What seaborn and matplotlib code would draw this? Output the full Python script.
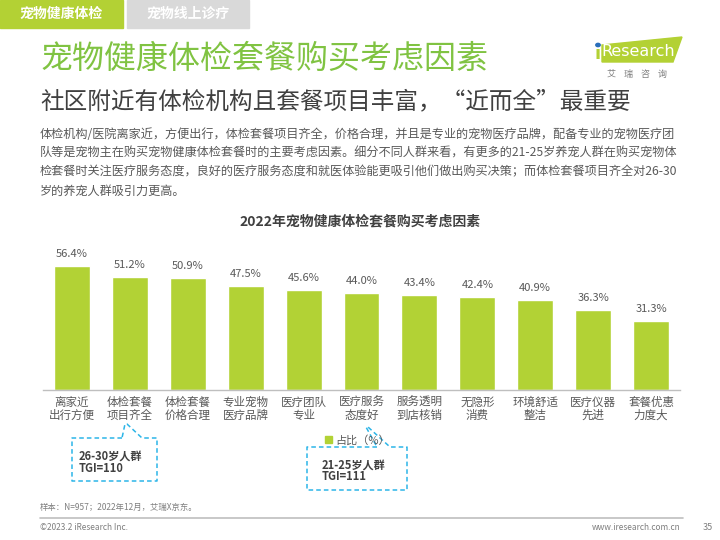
import matplotlib
matplotlib.use("Agg")
import matplotlib.pyplot as plt
import seaborn as sns
import pandas as pd
from matplotlib.lines import Line2D
from matplotlib.patches import Rectangle, Polygon

categories = ["离家近\n出行方便", "体检套餐\n项目齐全", "体检套餐\n价格合理", "专业宠物\n医疗品牌",
              "医疗团队\n专业", "医疗服务\n态度好", "服务透明\n到店核销", "无隐形\n消费",
              "环境舒适\n整洁", "医疗仪器\n先进", "套餐优惠\n力度大"]
values = [56.4, 51.2, 50.9, 47.5, 45.6, 44.0, 43.4, 42.4, 40.9, 36.3, 31.3]
series_name = "占比（%）"

sns.set_theme(style="white")
plt.rcParams['font.family'] = ['Noto Sans CJK SC', 'DejaVu Sans']

W, H = 720, 540
fig = plt.figure(figsize=(7.2, 5.4), dpi=100)

def px(x, y):
    return (x / W, 1 - y / H)

BAR = "#b2d235"
GRAY = "#595959"

# Axes
ax = fig.add_axes([43 / W, (H - 390) / H, 637 / W, 132 / H])
df = pd.DataFrame({"cat": categories, "val": values})
sns.barplot(data=df, x="cat", y="val", color=BAR, saturation=1, width=0.62, ax=ax)
ax.set_ylim(0, 60)
ax.set_xlim(-0.5, 10.5)
ax.set_xlabel("")
ax.set_ylabel("")
ax.set_yticks([])
for s in ["left", "right", "top"]:
    ax.spines[s].set_visible(False)
ax.spines["bottom"].set_color("#bfbfbf")
ax.spines["bottom"].set_linewidth(1)
ax.tick_params(axis="x", length=0, pad=4, labelsize=8.3, labelcolor=GRAY)
for t in ax.get_xticklabels():
    t.set_linespacing(1.05)
ax.bar_label(ax.containers[0], labels=[f"{v:.1f}%" for v in values], padding=5,
             fontsize=8, color=GRAY)

# Tabs
fig.add_artist(Rectangle(px(0, 28), 123 / W, 28 / H, transform=fig.transFigure,
                         color="#b3d134", zorder=0))
fig.add_artist(Rectangle(px(127, 28), 122 / W, 28 / H, transform=fig.transFigure,
                         color="#d9d9d9", zorder=0))
fig.text(*px(61, 14), "宠物健康体检", color="white", fontsize=10, fontweight="bold",
         ha="center", va="center")
fig.text(*px(188, 14), "宠物线上诊疗", color="white", fontsize=10, fontweight="bold",
         ha="center", va="center")

# Titles
fig.text(*px(40, 59), "宠物健康体检套餐购买考虑因素", color="#80c342", fontsize=23,
         ha="left", va="center")
fig.text(*px(40, 102), "社区附近有体检机构且套餐项目丰富，“近而全”最重要", color="#404040",
         fontsize=17, ha="left", va="center")

para = ["体检机构/医院离家近，方便出行，体检套餐项目齐全，价格合理，并且是专业的宠物医疗品牌，配备专业的宠物医疗团",
        "队等是宠物主在购买宠物健康体检套餐时的主要考虑因素。细分不同人群来看，有更多的21-25岁养宠人群在购买宠物体",
        "检套餐时关注医疗服务态度，良好的医疗服务态度和就医体验能更吸引他们做出购买决策；而体检套餐项目齐全对26-30",
        "岁的养宠人群吸引力更高。"]
for i, line in enumerate(para):
    fig.text(*px(40, 134 + i * 19), line, color=GRAY, fontsize=8.75, ha="left", va="center")

fig.text(*px(360, 221), "2022年宠物健康体检套餐购买考虑因素", color="#404040", fontsize=10,
         fontweight="bold", ha="center", va="center")

# Logo
fig.add_artist(Polygon([px(602, 45), px(682, 37), px(673, 62), px(602, 62)], closed=True,
                       transform=fig.transFigure, color="#b3d134", zorder=1))
fig.text(*px(598, 54), "ı", color="#b3d134", fontsize=13, ha="center", va="center",
         fontfamily="DejaVu Sans", fontweight="bold")
fig.add_artist(plt.Circle(px(598, 45), 2.2 / W, transform=fig.transFigure, color="#2a6ebb", zorder=3))
fig.text(*px(638, 52), "Research", color="white", fontsize=11.5, ha="center", va="center",
         fontfamily="DejaVu Sans", zorder=4)
fig.text(*px(637, 74), "艾    瑞    咨    询", color="#7f7f7f", fontsize=6.5, ha="center", va="center")

# Legend
fig.add_artist(Rectangle(px(325, 443), 7 / W, 7 / H, transform=fig.transFigure, color=BAR))
fig.text(*px(335, 440), series_name, color=GRAY, fontsize=8, ha="left", va="center")

# Callouts
BLUE = "#2cb5e8"
def dashed(points):
    xs = [px(*p)[0] for p in points]
    ys = [px(*p)[1] for p in points]
    fig.add_artist(Line2D(xs, ys, transform=fig.transFigure, color=BLUE, lw=1.1,
                          linestyle=(0, (3, 2))))

dashed([(122, 438), (72, 438), (72, 481), (157, 481), (157, 438), (142, 438), (127, 424), (125, 424), (122, 438)])
fig.text(*px(79, 456), "26-30岁人群", color="#404040", fontsize=8, fontweight="bold", ha="left", va="center")
fig.text(*px(79, 468), "TGI=110", color="#404040", fontsize=8, fontweight="bold", ha="left", va="center")

dashed([(377, 447), (307, 447), (307, 490), (407, 490), (407, 447), (390, 447), (368, 427), (366, 427), (377, 447)])
fig.text(*px(322, 465), "21-25岁人群", color="#404040", fontsize=8, fontweight="bold", ha="left", va="center")
fig.text(*px(322, 477), "TGI=111", color="#404040", fontsize=8, fontweight="bold", ha="left", va="center")

# Footer
fig.text(*px(40, 507), "样本：N=957；2022年12月，艾瑞X京东。", color="#7f7f7f", fontsize=6, ha="left", va="center")
fig.add_artist(Line2D([40 / W, 683 / W], [1 - 518 / H, 1 - 518 / H], transform=fig.transFigure,
                      color="#bfbfbf", lw=1.2))
fig.text(*px(40, 528), "©2023.2 iResearch Inc.", color="#7f7f7f", fontsize=6, ha="left", va="center")
fig.text(*px(681, 528), "www.iresearch.com.cn", color="#7f7f7f", fontsize=6, ha="right", va="center")
fig.text(*px(708, 528), "35", color="#7f7f7f", fontsize=6.5, ha="center", va="center")

fig.savefig("out.png", dpi=100)
